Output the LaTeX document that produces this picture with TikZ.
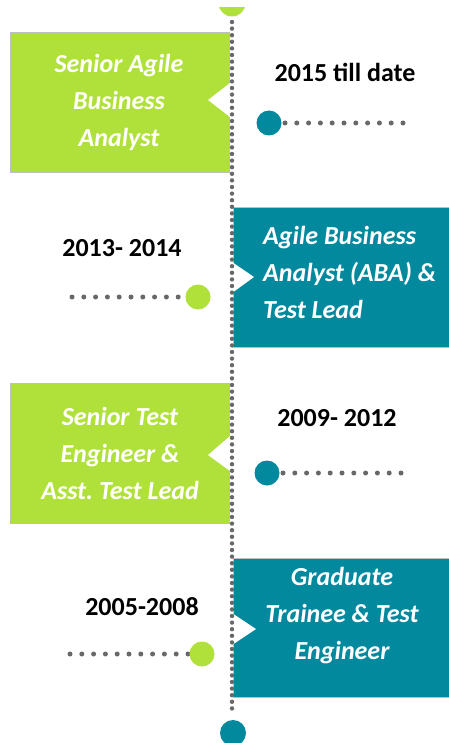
\documentclass[tikz,border=0pt]{standalone}
\usepackage{fontspec}
\setmainfont{Carlito}
\frenchspacing
\definecolor{limeg}{RGB}{176,225,58}
\definecolor{tealb}{RGB}{2,137,158}
\definecolor{dotg}{RGB}{104,104,104}
\begin{document}
\begin{tikzpicture}[x=1pt,y=-1pt,
  greenbox/.style={fill=limeg,draw=black!25,line width=0.8pt},
  tealbox/.style={fill=tealb,draw=black!25,line width=0.8pt},
  notch/.style={fill=white,draw=none},
  vdots/.style={draw=dotg,line width=4.4pt,line cap=round,dash pattern=on 0pt off 6.6pt},
  hdots/.style={draw=dotg,line width=5pt,line cap=round,dash pattern=on 0pt off 11.8pt},
  gdot/.style={circle,fill=limeg,inner sep=0pt,minimum size=25pt},
  tdot/.style={circle,fill=tealb,inner sep=0pt,minimum size=25pt},
  role/.style={text=white,font=\fontsize{26}{37}\selectfont\bfseries\itshape,inner sep=0pt},
  yr/.style={text=black,font=\fontsize{26}{30}\selectfont\bfseries,inner sep=0pt}]
\useasboundingbox (0,0) rectangle (449,743);
% boxes
\draw[greenbox] (10,32) rectangle (229,172);
\fill[notch] (230,83) -- (208,100) -- (230,117) -- cycle;
\draw[tealbox] (233,207) rectangle (455,347);
\fill[notch] (232,262) -- (254,277) -- (232,293) -- cycle;
\draw[greenbox] (10,383) rectangle (229,523);
\fill[notch] (230,436) -- (208,455) -- (230,471) -- cycle;
\draw[tealbox] (233,558) rectangle (455,697);
\fill[notch] (232,613) -- (256,629) -- (232,645) -- cycle;
% timeline
\coordinate (vtop) at (232,22);
\coordinate (vbot) at (232,712);
\draw[vdots] (vtop) -- (vbot);
\begin{scope}
\clip (0,8) rectangle (449,743);
\node[gdot,minimum size=27pt] (topdot) at (232,3) {};
\end{scope}
\node[tdot,minimum size=26pt] (botdot) at (233,733) {};
% markers
\coordinate (e1) at (403,123);
\coordinate (e2) at (72,297);
\coordinate (e3) at (401,473);
\coordinate (e4) at (70,654);
\coordinate (c1) at (269,123);
\coordinate (c2) at (198,297);
\coordinate (c3) at (267,473);
\coordinate (c4) at (202,654);
\draw[hdots] (e1) -- (c1);
\draw[hdots] (e2) -- (c2);
\draw[hdots] (e3) -- (c3);
\draw[hdots] (e4) -- (c4);
\node[tdot] (d1) at (c1) {};
\node[gdot] (d2) at (c2) {};
\node[tdot] (d3) at (c3) {};
\node[gdot] (d4) at (c4) {};
% years
\node[yr] (y1) at (345,72) {2015 till date};
\node[yr] (y2) at (122,248) {2013- 2014};
\node[yr] (y3) at (337,418) {2009- 2012};
\node[yr] (y4) at (142,607) {2005-2008};
% roles
\node[role,align=center] (r1) at (119,102) {Senior Agile\\Business\\Analyst};
\node[role,align=left,anchor=west] (r2) at (263,272) {Agile Business\\Analyst (ABA) \&\\Test Lead};
\node[role,align=center] (r3) at (120,453) {Senior Test\\Engineer \&\\Asst. Test Lead};
\node[role,align=center] (r4) at (342,616) {Graduate\\Trainee \& Test\\Engineer};
\end{tikzpicture}
\end{document}
